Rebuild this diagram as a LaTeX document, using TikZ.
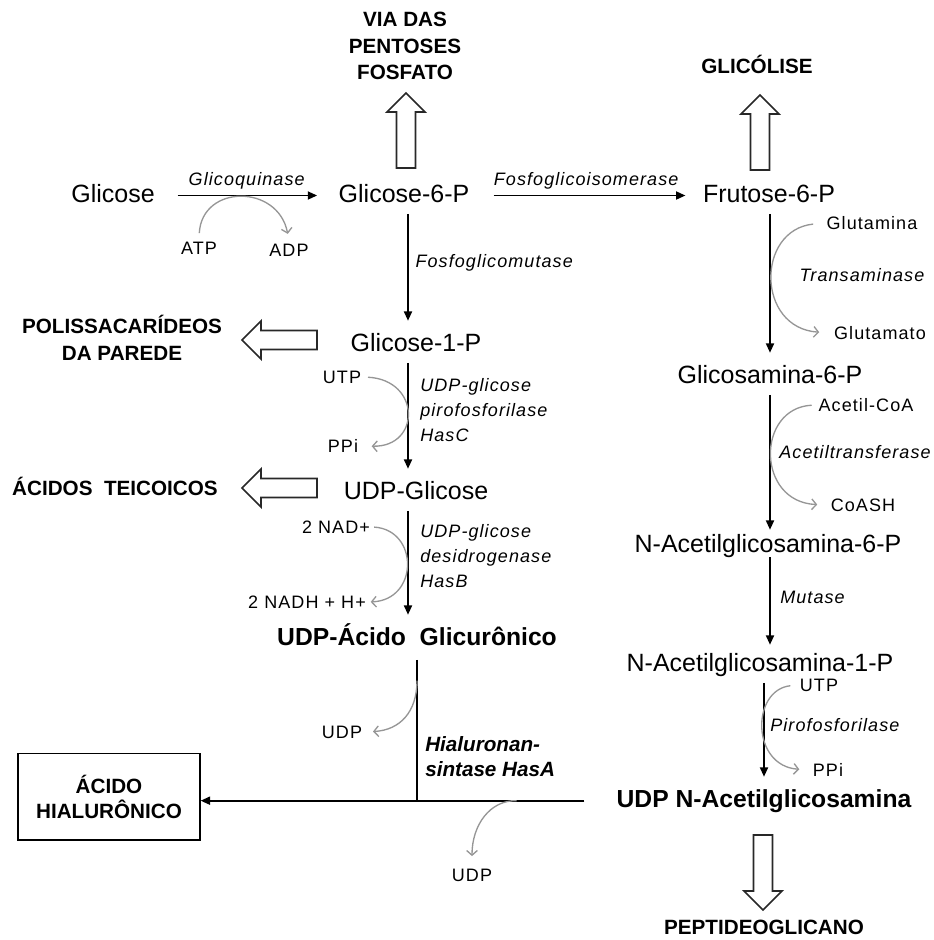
\documentclass[tikz,border=0pt]{standalone}
\usepackage{fontspec}
\setmainfont{Liberation Sans}
\newfontfamily\spacedfont[LetterSpace=6]{Liberation Sans}
\usepackage{tikz}
\usetikzlibrary{arrows.meta, calc}
\definecolor{cofgray}{RGB}{150,150,150}
\definecolor{blockdark}{RGB}{40,40,40}
\tikzset{
  metab/.style={font=\fontsize{18.75}{22}\selectfont, inner sep=0pt,
    text height=13.5pt, text depth=3.75pt, anchor=base},
  keymetab/.style={font=\fontsize{18.5}{22}\selectfont\bfseries, inner sep=0pt,
    text height=13.5pt, text depth=4pt, anchor=base},
  fate/.style={font=\fontsize{15.5}{20}\selectfont\bfseries, align=center, inner sep=0pt},
  enz/.style={font=\spacedfont\fontsize{13.5}{18.5}\selectfont\itshape,
    align=left, inner sep=0pt},
  cofactor/.style={font=\spacedfont\fontsize{13.5}{16}\selectfont, inner sep=2pt,
    text height=10pt, text depth=0pt},
  arr/.style={-{Triangle[length=7pt,width=6pt]}, line width=1.3pt,
    shorten <=5pt, shorten >=9pt},
  cof/.style={-{Straight Barb[length=3.5pt,width=8pt]}, draw=cofgray,
    line width=1pt, shorten <=3pt, shorten >=3pt},
  hollow/.pic={
    \draw[line width=1.3pt, draw=blockdark, fill=white]
      (-9.5,0) -- (-9.5,-56) -- (-19,-56) -- (0,-75) -- (19,-56)
      -- (9.5,-56) -- (9.5,0) -- cycle;
  }
}

\begin{document}
\begin{tikzpicture}[x=0.75pt, y=-0.75pt]
  \useasboundingbox (0,0) rectangle (934,940);

  % Metabolites
  \node[metab] (glc) at (113,202) {Glicose};
  \node[metab] (g6p) at (404,202) {Glicose-6-P};
  \node[metab] (f6p) at (769,202) {Frutose-6-P};
  \node[metab] (g1p) at (416,351) {Glicose-1-P};
  \node[metab] (udpg) at (416,499) {UDP-Glicose};
  \node[keymetab] (udpgluc) at (417,645) {UDP-Ácido~~Glicurônico};
  \node[metab] (gam6p) at (770,383) {Glicosamina-6-P};
  \node[metab] (nac6p) at (768,552) {N-Acetilglicosamina-6-P};
  \node[metab] (nac1p) at (760,671) {N-Acetilglicosamina-1-P};
  \node[keymetab] (udpnac) at (764,807) {UDP N-Acetilglicosamina};

  % Fates of the pathway
  \node[fate] (ppp) at (405,46) {VIA DAS\\PENTOSES\\FOSFATO};
  \node[fate, anchor=base] (glyc) at (757,73) {GLICÓLISE};
  \node[fate] (poly) at (122,338) {POLISSACARÍDEOS\\DA PAREDE};
  \node[fate, anchor=base] (teich) at (115,495) {ÁCIDOS~~TEICOICOS};
  \node[fate, anchor=base] (pgn) at (764,934) {PEPTIDEOGLICANO};
  \node[fate, draw, line width=1pt, minimum width=136.5pt, minimum height=65pt,
    font=\fontsize{15.5}{18.75}\selectfont\bfseries] (hyal) at (109,796.5)
    {ÁCIDO\\HIALURÔNICO};

  % Hollow arrows towards the fates
  \pic at (406,168) {hollow};
  \pic at (760,170) {hollow};
  \pic[rotate=90] at (317,340) {hollow};
  \pic[rotate=90] at (317,488) {hollow};
  \pic[rotate=180] at (763,835) {hollow};

  % Enzyme steps, left column
  \coordinate (colL) at (408,0);
  \coordinate (colR) at (770,0);
  \draw[arr, shorten <=17pt, shorten >=16pt] (glc.east) -- (g6p.west)
    node[enz, midway, above=4pt] {Glicoquinase};
  \draw[arr, shorten <=18pt, shorten >=13pt] (g6p.east) -- (f6p.west)
    node[enz, midway, above=4pt] {Fosfoglicoisomerase};
  \draw[arr] (g6p.south -| colL) -- (g1p.north -| colL)
    node[enz, midway, right=5pt, yshift=5pt] {Fosfoglicomutase};
  \draw[arr] (g1p.south -| colL) -- (udpg.north -| colL);
  \node[enz, anchor=west] (hasC) at (420,410) {UDP-glicose\\pirofosforilase\\HasC};
  \draw[arr] (udpg.south -| colL) -- (udpgluc.north -| colL);
  \node[enz, anchor=west] (hasB) at (420,556) {UDP-glicose\\desidrogenase\\HasB};

  % Enzyme steps, right column
  \draw[arr] (f6p.south -| colR) -- (gam6p.north -| colR);
  \node[enz] (transam) at (862,275) {Transaminase};
  \draw[arr, shorten >=3pt] (gam6p.south -| colR) -- (nac6p.north -| colR);
  \node[enz] (acetyl) at (855,452) {Acetiltransferase};
  \draw[arr, shorten <=0pt, shorten >=6pt] (nac6p.south -| colR) -- (nac1p.north -| colR);
  \node[enz, anchor=west] (mutase) at (780,597) {Mutase};
  \draw[arr] (nac1p.south -| udpnac.north) -- (udpnac.north);
  \node[enz, anchor=west] (pyro) at (770,725) {Pirofosforilase};

  % Hyaluronan synthase
  \coordinate (meet) at (udpgluc.south |- udpnac.west);
  \draw[line width=1.3pt, shorten <=7pt] (udpgluc.south) -- (meet);
  \draw[arr, shorten <=24pt, shorten >=0pt] (udpnac.west) -- (udpnac.west -| hyal.east);
  \node[fate, anchor=west, align=left,
    font=\fontsize{15.5}{18.75}\selectfont\bfseries\itshape] (hasA) at (425,757)
    {Hialuronan-\\sintase HasA};

  % Cofactors
  \node[cofactor] (atp) at (199,248) {ATP};
  \node[cofactor] (adp) at (289,250) {ADP};
  \node[cofactor] (utp) at (342,377) {UTP};
  \node[cofactor] (ppi) at (343,446) {PPi};
  \node[cofactor] (nad) at (336,527) {2 NAD+};
  \node[cofactor] (nadh) at (307,602) {2 NADH + H+};
  \node[cofactor] (glun) at (872,223) {Glutamina};
  \node[cofactor] (glut) at (880,333) {Glutamato};
  \node[cofactor] (acoa) at (866,405) {Acetil-CoA};
  \node[cofactor] (coash) at (863,505) {CoASH};
  \node[cofactor] (utp2) at (819,685) {UTP};
  \node[cofactor] (ppi2) at (828,770) {PPi};
  \node[cofactor] (udp1) at (342,732) {UDP};
  \node[cofactor] (udp2) at (472,875) {UDP};

  % Cofactor curves
  \draw[cof, shorten <=4pt, shorten >=5pt] (atp.north) .. controls (202,184) and (278,184) .. (adp.north);
  \draw[cof, shorten >=8pt] (utp.east) .. controls (421,380) and (421,447) .. (ppi.east);
  \draw[cof, shorten <=1pt, shorten >=1.5pt] (nad.east) .. controls (419,530) and (419,600) .. (nadh.east);
  \draw[cof, shorten <=8pt, shorten >=9pt] (glun.west) .. controls (756,230) and (756,328) .. (glut.west);
  \draw[cof, shorten <=3pt, shorten >=8pt] (acoa.west) .. controls (756,408) and (756,502) .. (coash.west);
  \draw[cof, shorten <=5pt, shorten >=8pt] (utp2.west) .. controls (751,690) and (751,766) .. (ppi2.west);
  \coordinate (tap1) at ($(udpgluc.south)!0.2!(meet)$);
  \coordinate (tap2) at ($(udpnac.west)!0.24!(udpnac.west -| hyal.east)$);
  \draw[cof, shorten <=0pt, shorten >=6pt] (tap1) .. controls (417,712) and (400,730) .. (udp1.east);
  \draw[cof, shorten <=0pt, shorten >=7pt] (tap2) .. controls (490,800) and (472,825) .. (udp2.north);
\end{tikzpicture}
\end{document}
